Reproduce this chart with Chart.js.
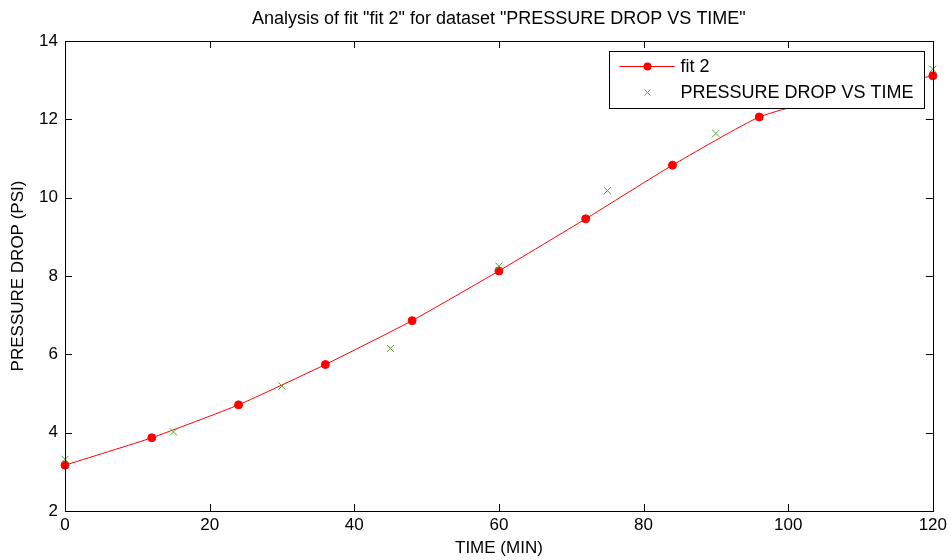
<!DOCTYPE html>
<html>
<head>
<meta charset="utf-8">
<script src="https://cdn.jsdelivr.net/npm/chart.js@4.4.0/dist/chart.umd.min.js"></script>
<style>
    html, body { margin: 0; padding: 0; background: #fff; }
    #wrap { width: 951px; height: 560px; }
</style>
</head>
<body>
<div id="wrap"><canvas id="fitChart" width="951" height="560"></canvas></div>
<script>
// Data
const fitTime = [0, 12, 24, 36, 48, 60, 72, 84, 96, 108, 120];
const fitDrop = [3.17, 3.87, 4.71, 5.74, 6.86, 8.13, 9.46, 10.83, 12.06, 12.68, 13.11];
const measTime = [0, 15, 30, 45, 60, 75, 90, 105, 120];
const measDrop = [3.32, 4.02, 5.19, 6.15, 8.25, 10.18, 11.64, 12.55, 13.28];
const xTicks = [0, 20, 40, 60, 80, 100, 120];
const yTicks = [2, 4, 6, 8, 10, 12, 14];

const chartTitle = 'Analysis of fit "fit 2" for dataset "PRESSURE DROP VS TIME"';
const legendLabels = ["fit 2", "PRESSURE DROP VS TIME"];

const FONT = "'Liberation Sans', Arial, sans-serif";
const RED = "#ff0000";
const GREEN = "#5aa02c";

// MATLAB-like frame: box, inward ticks on all sides, title and legend on top
const matlabFrame = {
    id: "matlabFrame",
    afterDatasetsDraw(chart) {
        const ctx = chart.ctx;
        const a = chart.chartArea;
        const xs = chart.scales.x;
        const ys = chart.scales.y;
        const tl = 7;

        ctx.save();
        ctx.strokeStyle = "#000";
        ctx.lineWidth = 1;
        ctx.beginPath();
        xTicks.forEach(v => {
            const px = Math.round(xs.getPixelForValue(v)) + 0.5;
            ctx.moveTo(px, a.bottom); ctx.lineTo(px, a.bottom - tl);
            ctx.moveTo(px, a.top); ctx.lineTo(px, a.top + tl);
        });
        yTicks.forEach(v => {
            const py = Math.round(ys.getPixelForValue(v)) + 0.5;
            ctx.moveTo(a.left, py); ctx.lineTo(a.left + tl, py);
            ctx.moveTo(a.right, py); ctx.lineTo(a.right - tl, py);
        });
        ctx.stroke();
        ctx.strokeRect(Math.round(a.left) + 0.5, Math.round(a.top) + 0.5,
            Math.round(a.right - a.left), Math.round(a.bottom - a.top));

        // Legend box
        const lx = Math.round(a.right) - 323.5;
        const ly = Math.round(a.top) + 10.5;
        ctx.fillStyle = "#fff";
        ctx.fillRect(lx, ly, 315, 57);
        ctx.strokeRect(lx, ly, 315, 57);

        const r1 = ly + 15;
        const r2 = ly + 41;
        ctx.strokeStyle = RED;
        ctx.beginPath();
        ctx.moveTo(lx + 10, r1); ctx.lineTo(lx + 65, r1);
        ctx.stroke();
        ctx.fillStyle = RED;
        ctx.beginPath();
        ctx.arc(lx + 38, r1, 4, 0, Math.PI * 2);
        ctx.fill();

        ctx.strokeStyle = GREEN;
        ctx.beginPath();
        ctx.moveTo(lx + 35, r2 - 3); ctx.lineTo(lx + 41, r2 + 3);
        ctx.moveTo(lx + 35, r2 + 3); ctx.lineTo(lx + 41, r2 - 3);
        ctx.stroke();

        ctx.fillStyle = "#000";
        ctx.font = "18px " + FONT;
        ctx.textBaseline = "middle";
        ctx.textAlign = "left";
        ctx.fillText(legendLabels[0], lx + 71, r1 + 1);
        ctx.fillText(legendLabels[1], lx + 71, r2 + 1);

        // Title
        ctx.font = "18px " + FONT;
        ctx.textAlign = "center";
        ctx.fillText(chartTitle, (a.left + a.right) / 2, 19);
        ctx.restore();
    }
};

const ctx = document.getElementById("fitChart").getContext("2d");
new Chart(ctx, {
    type: "scatter",
    data: {
        datasets: [{
            label: legendLabels[0],
            data: fitTime.map((t, i) => ({ x: t, y: fitDrop[i] })),
            showLine: true,
            borderColor: RED,
            borderWidth: 1,
            backgroundColor: RED,
            pointBackgroundColor: RED,
            pointBorderColor: RED,
            pointRadius: 4,
            pointBorderWidth: 1,
            tension: 0.15,
            clip: false,
            order: 2
        }, {
            label: legendLabels[1],
            data: measTime.map((t, i) => ({ x: t, y: measDrop[i] })),
            showLine: false,
            pointStyle: "crossRot",
            pointRadius: 5,
            pointBorderWidth: 1,
            pointBorderColor: GREEN,
            borderColor: GREEN,
            clip: false,
            order: 1
        }]
    },
    options: {
        responsive: false,
        animation: false,
        devicePixelRatio: 1,
        layout: { padding: { top: 41, right: 14, left: 0, bottom: 0 } },
        plugins: {
            legend: { display: false },
            tooltip: { enabled: false },
            title: { display: false }
        },
        scales: {
            x: {
                type: "linear",
                min: 0,
                max: 120,
                afterFit: s => { s.height = 49; },
                afterBuildTicks: s => { s.ticks = xTicks.map(v => ({ value: v })); },
                grid: { display: false, drawTicks: false },
                border: { display: false },
                ticks: { color: "#000", font: { family: FONT, size: 17 }, padding: 4, maxRotation: 0 },
                title: {
                    display: true,
                    text: "TIME (MIN)",
                    color: "#000",
                    font: { family: FONT, size: 17 },
                    padding: { top: 0, bottom: 1 }
                }
            },
            y: {
                type: "linear",
                min: 2,
                max: 14,
                afterFit: s => { s.width = 65; },
                afterBuildTicks: s => { s.ticks = yTicks.map(v => ({ value: v })); },
                grid: { display: false, drawTicks: false },
                border: { display: false },
                ticks: { color: "#000", font: { family: FONT, size: 17 }, padding: 7 },
                title: {
                    display: true,
                    text: "PRESSURE DROP (PSI)",
                    color: "#000",
                    font: { family: FONT, size: 17 },
                    padding: { top: 8, bottom: 0 }
                }
            }
        }
    },
    plugins: [matlabFrame]
});
</script>
</body>
</html>
